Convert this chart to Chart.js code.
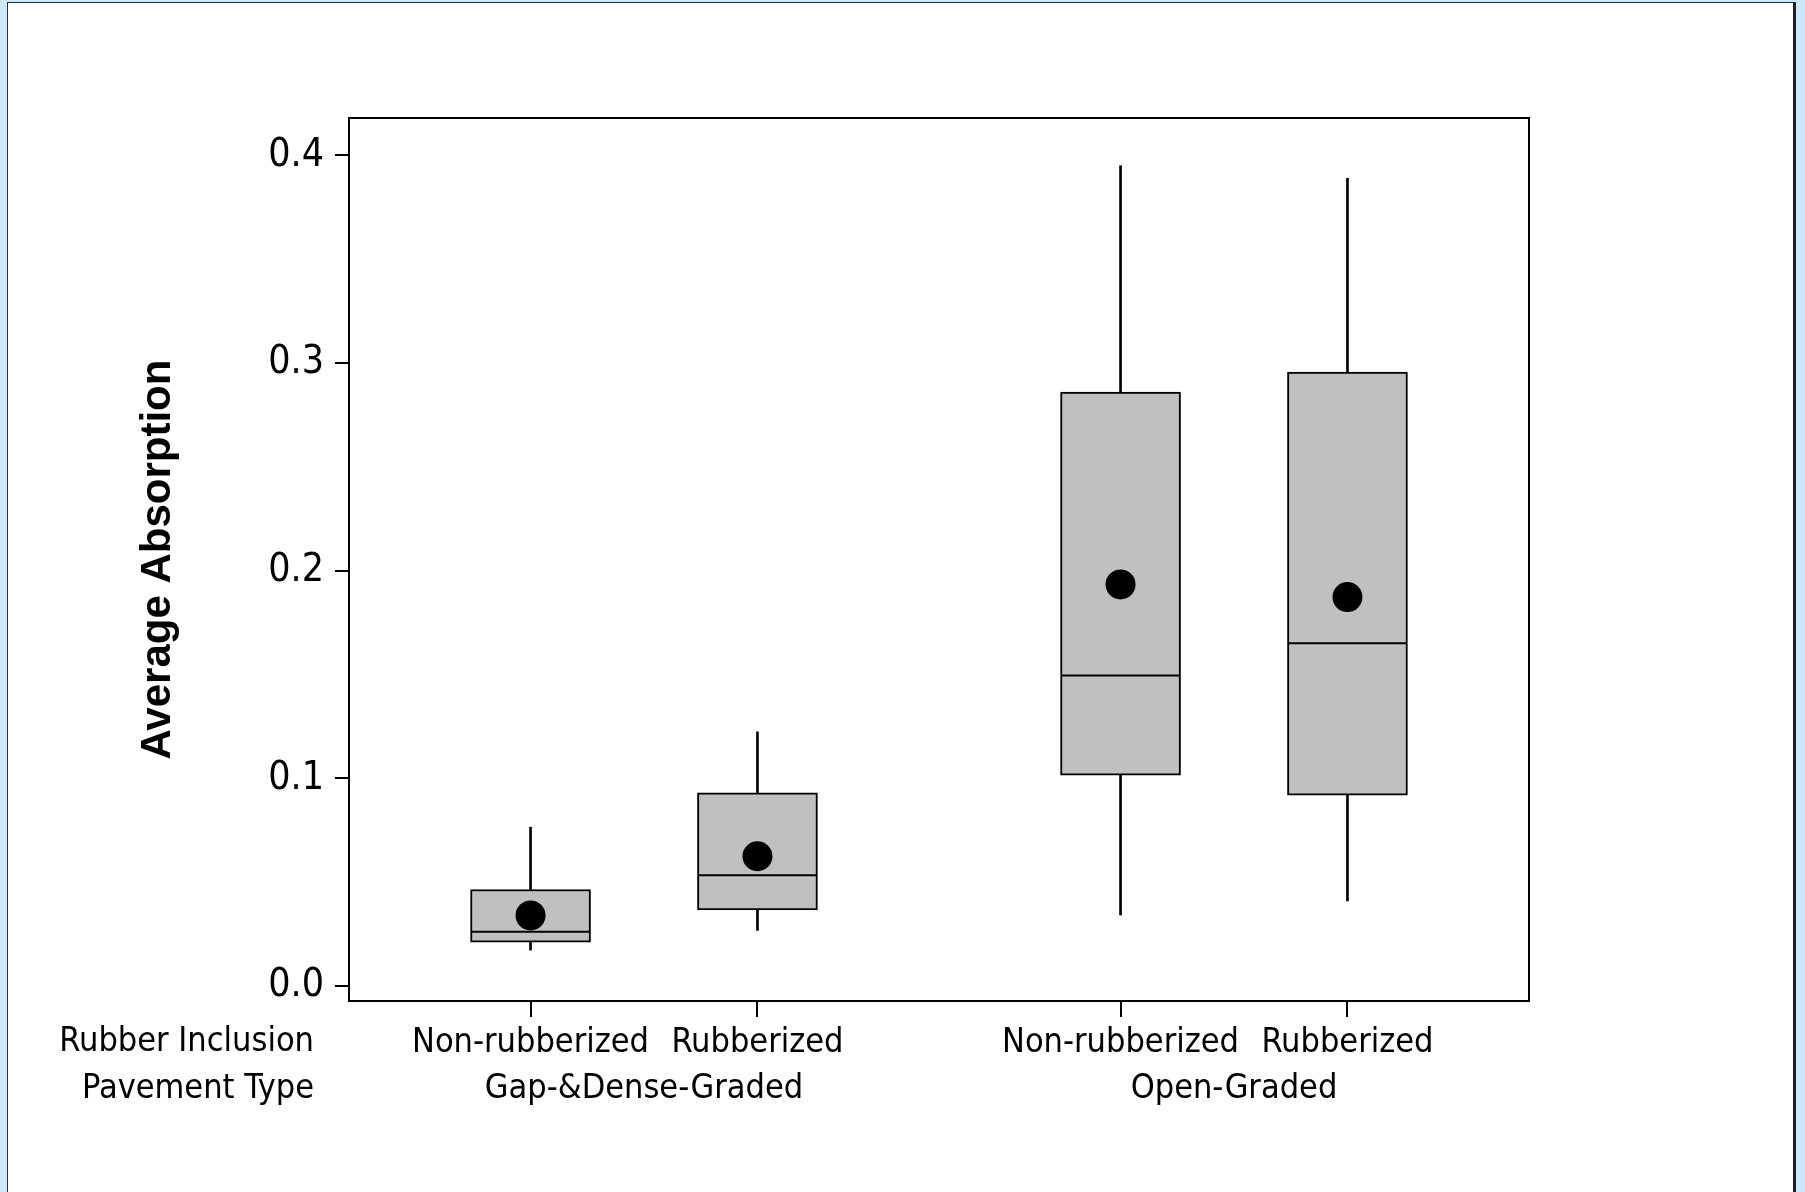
<!DOCTYPE html>
<html>
<head>
<meta charset="utf-8">
<title>Average Absorption</title>
<script src="https://cdn.jsdelivr.net/npm/chart.js@4.4.1/dist/chart.umd.min.js"></script>
<style>
  html, body { margin: 0; padding: 0; }
  body { width: 1805px; height: 1192px; background: #cde8fb; overflow: hidden; position: relative; }
  #panel {
    position: absolute; left: 7px; top: 2px; width: 1785px; height: 1200px;
    background: #fff; border-left: 1px solid #2a2a3a; border-top: 1px solid #2a2a3a; border-right: 3px solid #1e1e28;
  }
  #wrap { position: absolute; left: 0; top: 0; width: 1805px; height: 1192px; }
</style>
</head>
<body>
<div id="panel"></div>
<div id="wrap"><canvas id="boxChart"></canvas></div>
<script>
// groups / categories
const rubberLabels = ['Non-rubberized', 'Rubberized', 'Non-rubberized', 'Rubberized'];
const pavementTypes = ['Gap-&Dense-Graded', 'Open-Graded'];
const xPositions = [0, 1, 2.6, 3.6];

// box statistics per category
const whiskerLow = [0.0173, 0.0268, 0.0342, 0.0410];
const q1Values   = [0.0211, 0.0367, 0.1015, 0.0919];
const medians    = [0.0262, 0.0534, 0.1496, 0.1651];
const q3Values   = [0.0465, 0.0930, 0.2860, 0.2956];
const whiskerHigh= [0.0765, 0.1224, 0.3950, 0.3890];
const means      = [0.0340, 0.0625, 0.1934, 0.1873];

const yTicks = [0.0, 0.1, 0.2, 0.3, 0.4];

const tickFont = 'Tahoma, "DejaVu Sans Condensed", "DejaVu Sans", sans-serif';
const labelSize = 34;

const toPts = (vals) => vals.map((v, i) => ({ x: xPositions[i], y: v }));
const toRange = (lo, hi) => lo.map((v, i) => ({ x: xPositions[i], y: [v, hi[i]] }));

// frame around plot area + second row of category labels
const framePlugin = {
  id: 'frame',
  afterDraw(chart) {
    const { ctx, chartArea: a, scales } = chart;
    const x = scales.x;
    ctx.save();
    ctx.strokeStyle = '#000';
    ctx.lineWidth = 2;
    ctx.strokeRect(a.left, a.top, a.right - a.left, a.bottom - a.top);

    ctx.fillStyle = '#000';
    ctx.font = labelSize + 'px ' + tickFont;
    ctx.textBaseline = 'middle';
    ctx.textAlign = 'center';
    pavementTypes.forEach((t, g) => {
      const mid = (xPositions[g * 2] + xPositions[g * 2 + 1]) / 2;
      ctx.fillText(t, x.getPixelForValue(mid), a.bottom + 88);
    });
    ctx.textAlign = 'right';
    ctx.fillText('Rubber Inclusion', a.left - 35, a.bottom + 41);
    ctx.fillText('Pavement Type', a.left - 35, a.bottom + 88);
    ctx.restore();
  }
};

new Chart(document.getElementById('boxChart'), {
  type: 'bar',
  data: {
    datasets: [
      {
        type: 'line', label: 'Mean', data: toPts(means), showLine: false, order: 0,
        pointRadius: 15, pointBackgroundColor: '#000', pointBorderColor: '#000', pointBorderWidth: 0
      },
      {
        type: 'line', label: 'Median', data: toPts(medians), showLine: false, order: 1,
        pointStyle: 'line', pointRadius: 59, pointBorderColor: '#000', pointBorderWidth: 2
      },
      {
        label: 'IQR', data: toRange(q1Values, q3Values), order: 2, grouped: false,
        barThickness: 120, backgroundColor: '#c0c0c0', borderColor: '#000', borderWidth: 2, borderSkipped: false
      },
      {
        label: 'Upper whisker', data: toRange(q3Values, whiskerHigh), order: 3, grouped: false,
        barThickness: 2, backgroundColor: '#000', borderWidth: 0
      },
      {
        label: 'Lower whisker', data: toRange(whiskerLow, q1Values), order: 3, grouped: false,
        barThickness: 2, backgroundColor: '#000', borderWidth: 0
      }
    ]
  },
  options: {
    responsive: true,
    maintainAspectRatio: false,
    animation: false,
    events: [],
    layout: { padding: { left: 0, top: 118, right: 276, bottom: 0 } },
    plugins: { legend: { display: false }, tooltip: { enabled: false } },
    scales: {
      x: {
        type: 'linear', min: -0.8, max: 4.4, offset: false,
        afterBuildTicks: (s) => { s.ticks = xPositions.map(v => ({ value: v })); },
        afterFit: (s) => { s.height = 191; },
        border: { display: false },
        grid: { offset: false, drawOnChartArea: false, drawTicks: true, tickLength: 16, color: '#000', lineWidth: 2 },
        ticks: {
          color: '#000', padding: 6, maxRotation: 0, autoSkip: false,
          font: { size: labelSize, family: tickFont },
          callback: (v, i) => rubberLabels[i]
        }
      },
      y: {
        min: -0.0072, max: 0.418,
        afterBuildTicks: (s) => { s.ticks = yTicks.map(v => ({ value: v })); },
        afterFit: (s) => { s.width = 349; },
        border: { display: false },
        grid: { drawOnChartArea: false, drawTicks: true, tickLength: 14, color: '#000', lineWidth: 2 },
        ticks: {
          color: '#000', padding: 11,
          font: { size: 39, family: tickFont },
          callback: (v) => v.toFixed(1)
        },
        title: {
          display: true, text: 'Average Absorption', color: '#000',
          font: { size: 42, weight: 'bold', family: '"Liberation Sans", Arial, sans-serif' },
          padding: { top: 133, bottom: 0 }
        }
      }
    }
  },
  plugins: [framePlugin]
});
</script>
</body>
</html>
